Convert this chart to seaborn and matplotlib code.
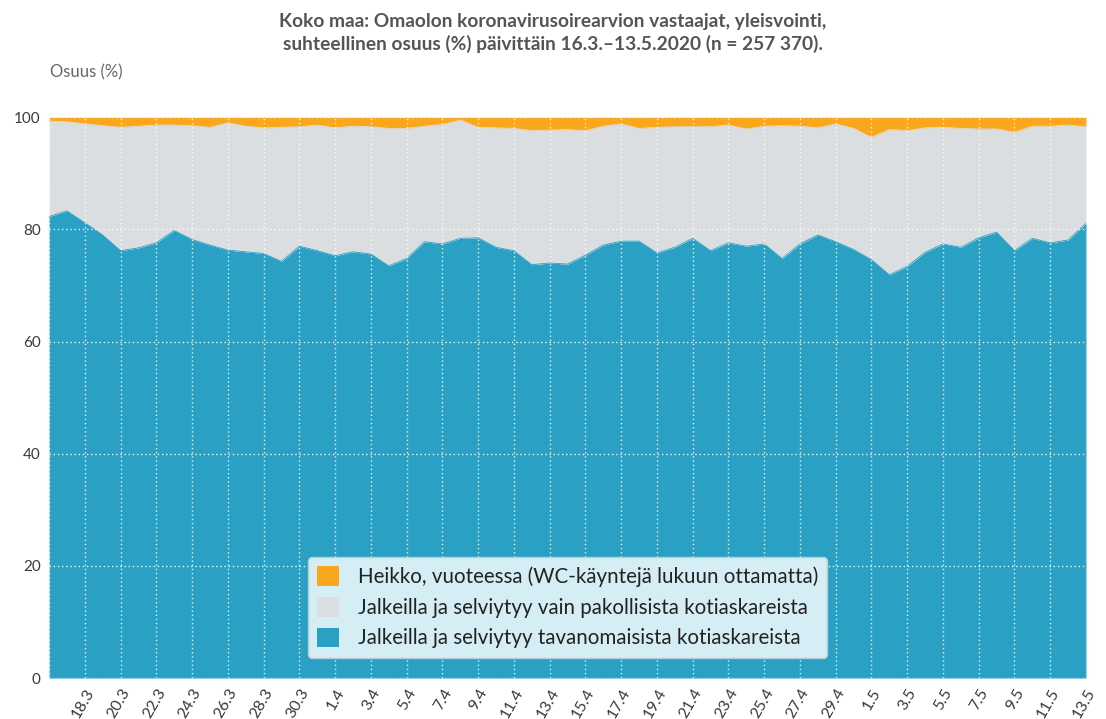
import pandas as pd
import numpy as np
import matplotlib
matplotlib.use('Agg')
import matplotlib.pyplot as plt
import seaborn as sns

# Days 16.3.-13.5.2020
days = pd.date_range('2020-03-16', '2020-05-13', freq='D')
day_labels = [f'{d.day}.{d.month}' for d in days]

# Share (%) "Jalkeilla ja selviytyy tavanomaisista kotiaskareista"
normal = [82.3, 83.3, 81.2, 79.0, 76.2, 76.7, 77.6, 79.8, 78.2, 77.2,
          76.3, 76.0, 75.7, 74.3, 77.0, 76.2, 75.3, 76.0, 75.6, 73.5,
          74.8, 77.8, 77.4, 78.4, 78.5, 76.8, 76.2, 73.7, 74.0, 73.8,
          75.4, 77.2, 77.9, 77.9, 75.8, 76.8, 78.4, 76.2, 77.6, 77.0,
          77.4, 74.8, 77.4, 79.0, 77.8, 76.4, 74.6, 71.9, 73.4, 75.9,
          77.4, 76.8, 78.5, 79.5, 76.2, 78.4, 77.6, 78.1, 81.1]
# cumulative top of "vain pakollisista" (= 100 - heikko)
upper = [99.3, 99.2, 98.8, 98.5, 98.2, 98.4, 98.6, 98.6, 98.5, 98.2,
         99.0, 98.4, 98.1, 98.2, 98.3, 98.6, 98.1, 98.4, 98.3, 98.0,
         98.0, 98.4, 98.7, 99.5, 98.2, 98.1, 98.0, 97.6, 97.7, 97.8,
         97.6, 98.4, 98.8, 98.0, 98.2, 98.3, 98.3, 98.3, 98.6, 97.9,
         98.4, 98.5, 98.4, 98.1, 98.8, 98.0, 96.4, 97.8, 97.6, 98.1,
         98.2, 98.0, 97.9, 97.9, 97.3, 98.4, 98.4, 98.6, 98.3]

df = pd.DataFrame({'day': np.arange(len(days)), 'label': day_labels,
                   'normal': normal, 'upper': upper})
df['necessary'] = df['upper'] - df['normal']
df['weak'] = 100 - df['upper']

c_blue = '#29a0c4'
c_gray = '#dbdee1'
c_orange = '#f9a81d'

sns.set_theme(style='white')
plt.rcParams['font.family'] = ['Lato', 'DejaVu Sans']

fig = plt.figure(figsize=(11.06, 7.19), dpi=100)
ax = fig.add_axes([0.0443, 0.057, 0.9376, 0.780])

ax.stackplot(df['day'], df['normal'], df['necessary'], df['weak'],
             colors=[c_blue, c_gray, c_orange], linewidth=0,
             labels=['Jalkeilla ja selviytyy tavanomaisista kotiaskareista',
                     'Jalkeilla ja selviytyy vain pakollisista kotiaskareista',
                     'Heikko, vuoteessa (WC-käyntejä lukuun ottamatta)'])
sns.lineplot(data=df, x='day', y='normal', color=c_blue, lw=0.6, ax=ax)
sns.lineplot(data=df, x='day', y='upper', color=c_gray, lw=0.6, ax=ax)

ax.set_xlim(0, len(days) - 1)
ax.set_ylim(0, 100)
ticks = list(range(2, len(days), 2))
ax.set_xticks(ticks)
ax.set_xticklabels([day_labels[i] for i in ticks], rotation=60, ha='right',
                   rotation_mode='anchor', fontsize=11.5, color='#3a3a3a')
ax.set_yticks([0, 20, 40, 60, 80, 100])
ax.set_yticklabels(['0', '20', '40', '60', '80', '100'], fontsize=11, color='#3a3a3a')
ax.tick_params(axis='both', length=0, pad=6)
ax.set_xlabel('')
ax.set_ylabel('')

# white dotted grid on top of the areas
for t in ticks + [0]:
    ax.axvline(t, color='white', ls=(0, (1, 2)), lw=1, alpha=0.85, zorder=5)
for t in [0, 20, 40, 60, 80, 100]:
    ax.axhline(t, color='white', ls=(0, (1, 2)), lw=1, alpha=0.9, zorder=5)

for s in ax.spines.values():
    s.set_visible(False)

h, l = ax.get_legend_handles_labels()
leg = ax.legend(h[::-1], l[::-1], loc='lower center', bbox_to_anchor=(0.5, 0.018),
                fontsize=14.8, frameon=True, fancybox=True, handlelength=1.1,
                handleheight=1.1, handletextpad=0.9, borderpad=0.45, labelspacing=0.48,
                shadow=False)
leg.get_frame().set_facecolor('#d5edf4')
leg.get_frame().set_edgecolor('#b8cdd4')
leg.get_frame().set_alpha(1)
leg.set_zorder(10)
for t in leg.get_texts():
    t.set_color('#222222')

fig.text(0.5, 0.982, 'Koko maa: Omaolon koronavirusoirearvion vastaajat, yleisvointi,\n'
         'suhteellinen osuus (%) päivittäin 16.3.–13.5.2020 (n = 257 370).',
         ha='center', va='top', fontsize=13.8, fontweight='bold', color='#555555',
         linespacing=1.3)
fig.text(0.045, 0.899, 'Osuus (%)', ha='left', va='center', fontsize=12, color='#666666')

fig.savefig('out.png', dpi=100)
